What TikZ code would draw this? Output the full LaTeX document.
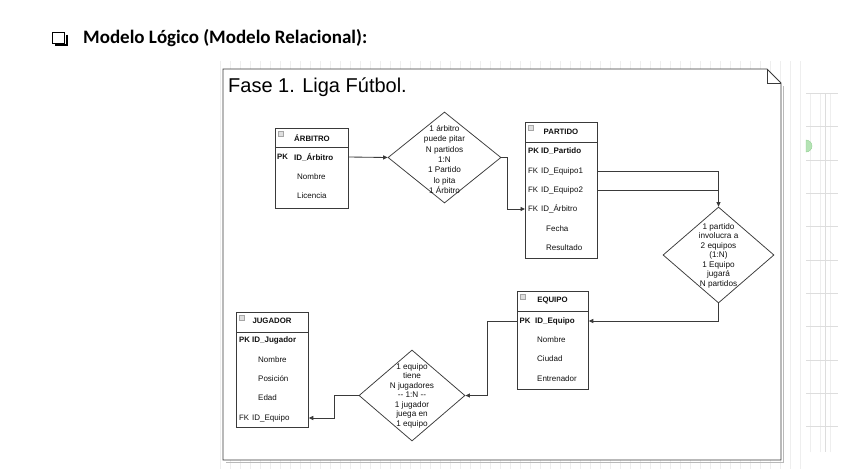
\documentclass[tikz,border=0pt]{standalone}
\usepackage{fontspec}
\setmainfont{Liberation Sans}
\newfontfamily\titlefont{Carlito}
\usetikzlibrary{arrows.meta,shapes.geometric}
\definecolor{ink}{HTML}{111111}
\definecolor{edge}{HTML}{3A3A3A}
\definecolor{gridc}{HTML}{EEEEEE}
\definecolor{gridm}{HTML}{DDDDDD}
\begin{document}
\begin{tikzpicture}[x=1pt,y=-1pt,
  tbl/.style={draw=edge, line width=0.75pt, fill=white, inner sep=0pt, anchor=north west},
  sepline/.style={draw=edge, line width=0.65pt},
  hdr/.style={font=\fontsize{7.8}{9}\selectfont\bfseries, text=ink, inner sep=0pt},
  keylab/.style={font=\fontsize{7.8}{9}\selectfont, text=ink, inner sep=0pt, anchor=west},
  rowtxt/.style={font=\fontsize{8}{9}\selectfont, text=ink, inner sep=0pt, anchor=west},
  icon/.style={draw=gray!70, fill=gray!25, line width=0.4pt},
  rel/.style={diamond, draw=edge, line width=0.75pt, fill=white, inner sep=0pt, aspect=1.2},
  reltxt/.style={font=\fontsize{8.2}{9.5}\selectfont, text=ink, align=center, inner sep=0pt},
  link/.style={draw=edge, line width=0.85pt},
  conn/.style={link, -{Triangle[length=4.5pt,width=4pt]}},
]
\useasboundingbox (0,0) rectangle (859,469);
\fill[white] (0,0) rectangle (859,469);

% background grid
\draw[gridc, line width=0.4pt, step=10] (213,61) grid (800,469);
% right-hand panel
\draw[gridc, line width=0.4pt, step=10] (806,93) grid (838,452);
\foreach \yy in {93,126,160,193,226,260,293,326,360,393,426} \draw[gridm, line width=0.5pt] (806,\yy) -- (838,\yy);
\draw[gridm, line width=0.5pt] (825,93) -- (825,452);
\fill[green!45!gray!40, draw=green!40!gray!60, line width=0.4pt] (806,152) arc[start angle=90, end angle=-90, radius=6] -- cycle;

% page frame with shadow and folded corner
\draw[gray!55, line width=1.6pt] (783.5,86) -- (783.5,462.5) -- (226,462.5);
\draw[edge, line width=0.9pt, fill=white] (223,69) -- (767,69) -- (781,83) -- (781,460) -- (223,460) -- cycle;
\draw[edge, line width=0.7pt] (767,69) -- (767,83) -- (781,83);

% page title
\draw[black, line width=1.2pt, fill=white] (52.5,32.5) rectangle (64.5,43.5);
\draw[black, line width=2pt] (66.5,34.5) -- (66.5,45.2) -- (54.5,45.2);
\node[anchor=base west, inner sep=0pt, font=\titlefont\bfseries\fontsize{19}{22}\selectfont] (title) at (83,43) {Modelo Lógico (Modelo Relacional):};
\node[anchor=base west, inner sep=0pt, font=\fontsize{20}{24}\selectfont, text=black] (fase) at (228,92) {Fase 1. Liga Fútbol.};

% ARBITRO
\node[tbl, minimum width=73pt, minimum height=80pt] (arb) at (275,128) {};
\draw[sepline] ([yshift=-19pt]arb.north west) -- ([yshift=-19pt]arb.north east);
\draw[icon] ([xshift=3pt,yshift=-3pt]arb.north west) rectangle ++(5,5);
\node[hdr] (arbh) at (312,138) {ÁRBITRO};
\node[keylab, font=\fontsize{7.8}{9}\selectfont\bfseries] (arbk) at (277,157) {PK};
\node[rowtxt, font=\fontsize{8}{9}\selectfont\bfseries] (arbpk) at (294,157) {ID\_Árbitro};
\node[rowtxt] (arbn) at (297,177) {Nombre};
\node[rowtxt] (arbl) at (297,196) {Licencia};

% PARTIDO
\node[tbl, minimum width=72pt, minimum height=136pt] (par) at (525,122) {};
\draw[sepline] ([yshift=-20pt]par.north west) -- ([yshift=-20pt]par.north east);
\draw[icon] ([xshift=3pt,yshift=-3pt]par.north west) rectangle ++(5,5);
\node[hdr] (parh) at (561,131.5) {PARTIDO};
\node[keylab, font=\fontsize{7.8}{9}\selectfont\bfseries] (park) at (528,151) {PK};
\node[rowtxt, font=\fontsize{8}{9}\selectfont\bfseries] (parpk) at (541,151) {ID\_Partido};
\node[keylab] (park1) at (528,171) {FK};
\node[rowtxt] (pare1) at (541,171) {ID\_Equipo1};
\node[keylab] (park2) at (528,190) {FK};
\node[rowtxt] (pare2) at (541,190) {ID\_Equipo2};
\node[keylab] (park3) at (528,209) {FK};
\node[rowtxt] (parfa) at (541,209) {ID\_Árbitro};
\node[rowtxt] (parf) at (546,229) {Fecha};
\node[rowtxt] (parr) at (546,248) {Resultado};

% EQUIPO
\node[tbl, minimum width=71pt, minimum height=98pt] (equ) at (517,291) {};
\draw[sepline] ([yshift=-20pt]equ.north west) -- ([yshift=-20pt]equ.north east);
\draw[icon] ([xshift=3pt,yshift=-3pt]equ.north west) rectangle ++(5,5);
\node[hdr] (equh) at (552.5,300.5) {EQUIPO};
\node[keylab, font=\fontsize{7.8}{9}\selectfont\bfseries] (equk) at (519.5,321) {PK};
\node[rowtxt, font=\fontsize{8}{9}\selectfont\bfseries] (equpk) at (535,321) {ID\_Equipo};
\node[rowtxt] (equn) at (537,340) {Nombre};
\node[rowtxt] (equc) at (537,359) {Ciudad};
\node[rowtxt] (eque) at (537,379) {Entrenador};

% JUGADOR
\node[tbl, minimum width=72pt, minimum height=115pt] (jug) at (236,312) {};
\draw[sepline] ([yshift=-20pt]jug.north west) -- ([yshift=-20pt]jug.north east);
\draw[icon] ([xshift=3pt,yshift=-3pt]jug.north west) rectangle ++(5,5);
\node[hdr] (jugh) at (272,321) {JUGADOR};
\node[keylab, font=\fontsize{7.8}{9}\selectfont\bfseries] (jugk) at (239,340) {PK};
\node[rowtxt, font=\fontsize{8}{9}\selectfont\bfseries] (jugpk) at (252,340) {ID\_Jugador};
\node[rowtxt] (jugn) at (258,360) {Nombre};
\node[rowtxt] (jugp) at (258,379) {Posición};
\node[rowtxt] (juge) at (258,398) {Edad};
\node[keylab] (jugk2) at (239,418) {FK};
\node[rowtxt] (jugfk) at (252,418) {ID\_Equipo};

% relationships
\node[rel, minimum width=113pt, minimum height=91pt] (d1) at (444.5,157.5) {};
\node[reltxt, font=\fontsize{8.2}{10.3}\selectfont] (d1t) at (444.5,159.5) {1 árbitro\\puede pitar\\N partidos\\1:N\\1 Partido\\lo pita\\1 Árbitro};
\node[rel, minimum width=111pt, minimum height=96pt] (d2) at (718.5,255) {};
\node[reltxt] (d2t) at (718.5,255.5) {1 partido\\involucra a\\2 equipos\\(1:N)\\1 Equipo\\jugará\\N partidos};
\node[rel, minimum width=106pt, minimum height=91pt] (d3) at (412,395.5) {};
\node[reltxt] (d3t) at (412,395.5) {1 equipo\\tiene\\N jugadores\\{-}{-} 1:N {-}{-}\\1 jugador\\juega en\\1 equipo};

% connectors
\draw[conn] (arb.east |- arbpk) -- (d1.west);
\draw[conn] (d1.east) -- ++(6,0) |- (par.west |- parfa);
\draw[conn] (par.east |- pare1) -| (d2.north);
\draw[link] (par.east |- pare2) -- (d2.north |- pare2);
\draw[conn] (d2.south) |- (equ.east |- equpk);
\draw[conn] (equ.west |- equpk) -- ++(-30,0) |- (d3.east);
\draw[conn] (d3.west) -- ++(-24,0) |- (jug.east |- jugfk);
\end{tikzpicture}
\end{document}
